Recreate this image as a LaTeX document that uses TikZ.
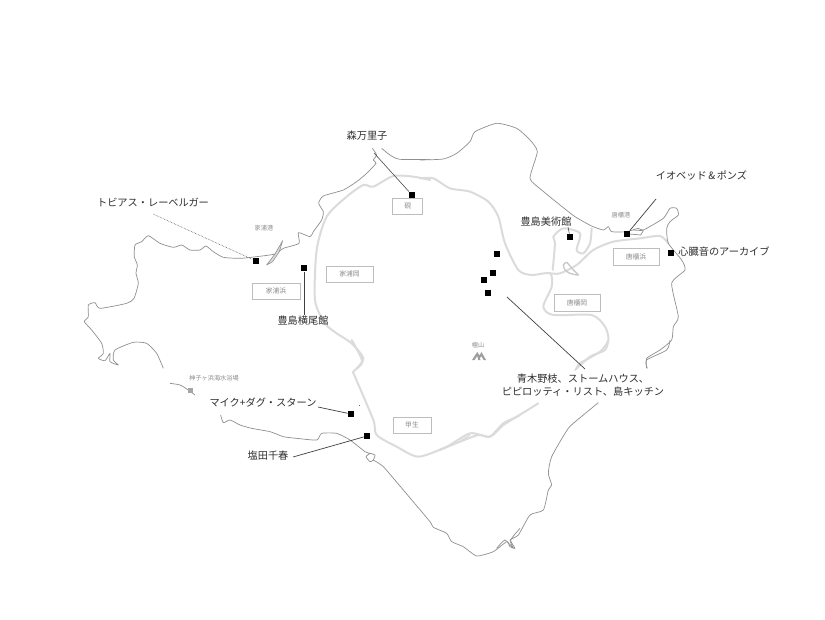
\documentclass[tikz,border=0pt]{standalone}
\usepackage{fontspec}
\setmainfont{Noto Sans CJK JP}[Scale=1]
\tikzset{
  coast/.style={draw=black!44,line width=0.7pt,line join=round},
  road/.style={draw=black!14,line width=2pt,line join=round,line cap=round},
  spot/.style={fill=black,inner sep=0pt,minimum size=6.6pt,draw=none},
  artist/.style={font=\fontsize{10.2}{12.5}\selectfont,text=black!82,inner sep=0pt,align=center},
  place/.style={font=\fontsize{6.8}{8}\selectfont,text=black!45,draw=black!26,line width=0.6pt,inner sep=0pt},
  smalltext/.style={font=\fontsize{6.2}{7}\selectfont,text=black!45,inner sep=0pt},
  lead/.style={draw=black!75,line width=0.7pt},
  zA/.style={shift={(80,110)},x=0.33333pt,y=-0.33333pt},
  zB/.style={shift={(420,110)},x=0.33333pt,y=-0.33333pt},
  zC/.style={shift={(170,340)},x=0.33333pt,y=-0.33333pt},
  zD/.style={shift={(440,340)},x=0.33333pt,y=-0.33333pt},
}
\begin{document}
\begin{tikzpicture}[x=1pt,y=-1pt]
\useasboundingbox (0,0) rectangle (825,619);
\fill[white] (0,0) rectangle (825,619);
% roads
\begin{scope}[zA]
\draw[road] plot[smooth,tension=0.45] coordinates {(830,775)(850,745)(815,700)(770,670)(735,640)(705,570)(710,420)(740,320)(800,260)(850,225)(880,230)(940,198)(1000,200)(1050,210)};
\end{scope}
\begin{scope}[zB]
\draw[road] plot[smooth,tension=0.45] coordinates {(0,205)(40,205)(90,235)(150,245)(205,275)(235,320)(255,400)(295,480)(335,495)(390,490)(395,530)(370,590)(400,615)(515,615)(555,650)(565,690)(540,725)(480,760)(470,775)};
\draw[road] plot[smooth,tension=0.45] coordinates {(390,490)(420,490)(470,465)(520,420)(580,395)(660,385)(720,378)(745,400)};
\draw[road] plot[smooth,tension=0.45] coordinates {(398,480)(405,400)(400,380)(430,355)(480,370)(470,420)(490,430)(510,400)(515,355)};
\draw[road,line width=1.3pt,draw=black!22] plot[smooth cycle,tension=0.35] coordinates {(430,465)(440,457)(460,480)(475,495)(450,490)(435,480)};
\end{scope}
\begin{scope}[zD]
\draw[road] plot[smooth,tension=0.45] coordinates {(505,0)(495,30)(450,50)(405,90)};
\draw[road] plot[smooth,tension=0.45] coordinates {(295,190)(230,230)(190,250)(150,290)(115,285)(60,305)(0,330)};
\draw[road,line width=1.2pt] (62,302) -- (90,285);
\end{scope}
\begin{scope}[zC]
\draw[road] plot[smooth,tension=0.45] coordinates {(1050,225)(1000,255)(960,290)(900,280)(830,320)(745,350)(680,320)(620,285)(610,240)(555,110)(550,95)(577,65)(545,0)};
\end{scope}
% coast
\begin{scope}[zA]
\draw[coast] plot[smooth,tension=0.35] coordinates {(877,115)(890,135)(880,150)(888,160)(860,190)(830,215)(790,240)(730,258)(716,280)(730,305)(725,330)(700,365)(690,380)(655,368)(657,400)(610,415)(585,432)(530,440)(480,445)(430,442)(400,425)(378,408)(360,420)(330,420)(305,405)(280,412)(240,400)(205,377)(185,395)(165,405)(163,440)(172,465)(168,490)(175,520)(162,565)(140,580)(60,595)(45,578)(25,585)(25,620)(13,635)(35,660)(65,700)(70,730)(55,745)(75,752)(90,730)(90,755)(115,765)(100,750)(105,720)(160,697)(200,700)(230,730)(250,775)};
\filldraw[coast,fill=black!14,line width=0.6pt] (608,392) -- (585,432) -- (560,465) -- (578,455) -- (598,425) -- cycle;
\end{scope}
\begin{scope}[zB]
\draw[coast] plot[smooth,tension=0.35] coordinates {(680,775)(680,745)(720,720)(755,690)(760,650)(775,620)(755,520)(795,480)(785,450)(745,400)(740,355)(750,335)(775,315)(770,295)(750,295)(730,325)(670,360)(655,355)(620,365)(575,365)(565,350)(550,360)(515,348)(465,320)(420,285)(365,240)(330,205)(352,125)(330,90)(290,55)(230,40)(165,65)(150,95)(110,130)(70,147)(0,150)};
\draw[coast] (640,360) -- (670,362) -- (662,375) -- (628,372);
\end{scope}
\begin{scope}[zA]
\draw[coast] plot[smooth,tension=0.4] coordinates {(1050,148)(960,148)(930,135)(905,115)};
\end{scope}
\begin{scope}[zC]
\draw[coast] plot[smooth,tension=0.4] coordinates {(0,130)(30,135)(55,150)(75,165)};
\fill[black!35] (55,143) rectangle (70,158);
\draw[coast] plot[smooth,tension=0.35] coordinates {(152,225)(160,248)(180,240)(210,255)(245,265)(300,275)(340,290)(380,295)(440,300)(455,280)(500,280)(540,300)(585,335)(600,340)(615,345)(610,360)(600,365)(588,350)(600,340)};
\draw[coast] plot[smooth,tension=0.3] coordinates {(610,360)(640,380)(700,450)(780,545)(790,562)(830,580)(845,605)(880,620)(920,648)(970,635)(1010,605)(1020,620)(1035,625)(1022,600)(1050,565)};
\fill[black!60] (566,195) rectangle (569,199);
\end{scope}
\begin{scope}[zD]
\draw[coast] plot[smooth,tension=0.35] coordinates {(170,625)(195,600)(220,625)(210,600)(235,585)(270,525)(310,510)(325,450)(335,435)(325,400)(335,350)(385,265)(430,225)(475,188)};
\draw[coast] plot[smooth,tension=0.4] coordinates {(622,85)(620,60)(680,30)(690,0)};
\end{scope}
% mountain
\fill[black!38] (472,360) -- (477.3,352) -- (479.5,355.5) -- (481.5,352) -- (486,360) -- (483.6,360) -- (481.2,356) -- (479.8,358.5) -- (480.6,360) -- (478.3,360) -- (477.2,356) -- (474.6,360) -- cycle;
% place labels
\node[place,minimum width=30pt,minimum height=16.5pt] (suzuri) at (407.7,206.5) {硯};
\node[place,minimum width=47pt,minimum height=16pt] (ieoka) at (349.5,274) {家浦岡};
\node[place,minimum width=48pt,minimum height=16pt] (iehama) at (276,291) {家浦浜};
\node[place,minimum width=46pt,minimum height=17pt] (karahama) at (636,256.5) {唐櫃浜};
\node[place,minimum width=46pt,minimum height=17pt] (karaoka) at (577,302.5) {唐櫃岡};
\node[place,minimum width=38pt,minimum height=16pt] (kou) at (412,425) {甲生};
\node[smalltext] (iekou) at (264,228) {家浦港};
\node[smalltext] (karakou) at (621,215) {唐櫃港};
\node[smalltext] (dan) at (478,345.5) {檀山};
\node[smalltext] (miko) at (214,378.5) {神子ヶ浜海水浴場};
% spots
\node[spot] (s1) at (412,195) {};
\node[spot] (s2) at (256,261) {};
\node[spot] (s3) at (304,268) {};
\node[spot] (s4) at (570,237) {};
\node[spot] (s5) at (627,234) {};
\node[spot] (s6) at (671,253) {};
\node[spot] (s7) at (497,254) {};
\node[spot] (s8) at (493,273) {};
\node[spot] (s9) at (484,280) {};
\node[spot] (s10) at (488,293) {};
\node[spot] (s11) at (351,414) {};
\node[spot] (s12) at (367,436) {};
% artist labels
\node[artist] (mori) at (367,136) {森万里子};
\node[artist] (tobias) at (153,202) {トビアス・レーベルガー};
\node[artist] (yokoo) at (303,321) {豊島横尾館};
\node[artist] (museum) at (546,222) {豊島美術館};
\node[artist] (iobed) at (701.5,176) {イオベッド\kern1.5pt\&\kern1.5pt ポンズ};
\node[artist] (heart) at (724,252) {心臓音のアーカイブ};
\node[artist] (aoki) at (583,385) {青木野枝、ストームハウス、\\ピピロッティ・リスト、島キッチン};
\node[artist] (mike) at (263,403) {マイク+ダグ・スターン};
\node[artist] (shiota) at (268,456) {塩田千春};
% connectors
\coordinate (c1) at (374,153);
\coordinate (c2) at (153,214);
\coordinate (c3) at (304,315);
\coordinate (c4) at (568,227);
\coordinate (c5) at (656,199);
\coordinate (c6) at (507,297);
\coordinate (c6b) at (585,369);
\coordinate (c7) at (318,407);
\coordinate (c8) at (293,457);
\draw[lead,line width=0.55pt] (c1) -- (s1);
\draw[lead,line width=0.55pt,densely dotted] (c2) -- (s2);
\draw[lead] (c3) -- (s3);
\draw[lead,line width=0.5pt] (c4) -- (s4);
\draw[lead] (c5) -- (s5);
\draw[lead] (c6) -- (c6b);
\draw[lead] (c7) -- (s11);
\draw[lead] (c8) -- (s12);
\end{tikzpicture}
\end{document}
